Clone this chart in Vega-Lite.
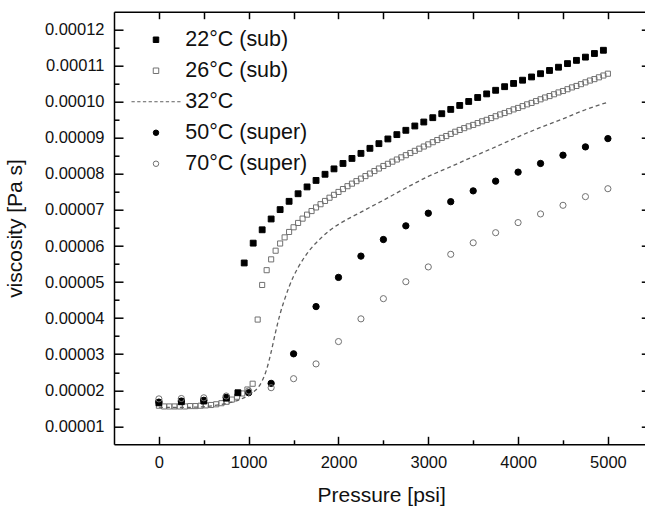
{
  "$schema": "https://vega.github.io/schema/vega-lite/v6.json",
  "width": 534.3,
  "height": 432.6,
  "autosize": {"type": "none"},
  "padding": {"left": 114, "top": 11.7, "right": 0, "bottom": 64},
  "background": "white",
  "config": {
    "view": {"stroke": null},
    "font": "Liberation Sans",
    "axis": {
      "domainColor": "#000", "domainWidth": 1.5, "tickColor": "#000", "tickWidth": 1.5,
      "labelFont": "Liberation Sans", "labelFontSize": 16.5, "labelColor": "#111",
      "titleFont": "Liberation Sans", "titleFontSize": 21, "titleFontWeight": "normal", "titleColor": "#111",
      "grid": false, "labelFlush": false, "labelOverlap": false
    },
    "legend": {
      "labelFont": "Liberation Sans", "labelFontSize": 21.5, "labelColor": "#111",
      "symbolSize": 30, "symbolStrokeWidth": 1, "labelOffset": 18.5, "rowPadding": 8, "padding": 0
    }
  },
  "data": {"values": [
    {"s":"26°C (sub)","p":0,"v":1.57e-5},{"s":"26°C (sub)","p":58,"v":1.55e-5},{"s":"26°C (sub)","p":116,"v":1.55e-5},{"s":"26°C (sub)","p":174,"v":1.55e-5},{"s":"26°C (sub)","p":232,"v":1.55e-5},{"s":"26°C (sub)","p":290,"v":1.55e-5},{"s":"26°C (sub)","p":348,"v":1.56e-5},{"s":"26°C (sub)","p":406,"v":1.56e-5},{"s":"26°C (sub)","p":464,"v":1.57e-5},{"s":"26°C (sub)","p":522,"v":1.58e-5},{"s":"26°C (sub)","p":580,"v":1.59e-5},{"s":"26°C (sub)","p":638,"v":1.61e-5},{"s":"26°C (sub)","p":696,"v":1.64e-5},{"s":"26°C (sub)","p":754,"v":1.68e-5},{"s":"26°C (sub)","p":812,"v":1.74e-5},{"s":"26°C (sub)","p":870,"v":1.82e-5},{"s":"26°C (sub)","p":928,"v":1.91e-5},{"s":"26°C (sub)","p":986,"v":2.02e-5},{"s":"26°C (sub)","p":1044,"v":2.18e-5},
    {"s":"26°C (sub)","p":1100,"v":3.96e-5},{"s":"26°C (sub)","p":1150,"v":4.92e-5},{"s":"26°C (sub)","p":1200,"v":5.33e-5},{"s":"26°C (sub)","p":1250,"v":5.63e-5},{"s":"26°C (sub)","p":1300,"v":5.87e-5},{"s":"26°C (sub)","p":1350,"v":6.07e-5},{"s":"26°C (sub)","p":1400,"v":6.24e-5},{"s":"26°C (sub)","p":1450,"v":6.39e-5},{"s":"26°C (sub)","p":1500,"v":6.52e-5},{"s":"26°C (sub)","p":1550,"v":6.64e-5},{"s":"26°C (sub)","p":1600,"v":6.76e-5},{"s":"26°C (sub)","p":1650,"v":6.87e-5},{"s":"26°C (sub)","p":1700,"v":6.97e-5},{"s":"26°C (sub)","p":1750,"v":7.07e-5},{"s":"26°C (sub)","p":1800,"v":7.16e-5},{"s":"26°C (sub)","p":1850,"v":7.25e-5},{"s":"26°C (sub)","p":1900,"v":7.34e-5},{"s":"26°C (sub)","p":1950,"v":7.42e-5},{"s":"26°C (sub)","p":2000,"v":7.50e-5},{"s":"26°C (sub)","p":2050,"v":7.58e-5},{"s":"26°C (sub)","p":2100,"v":7.66e-5},{"s":"26°C (sub)","p":2150,"v":7.73e-5},{"s":"26°C (sub)","p":2200,"v":7.80e-5},{"s":"26°C (sub)","p":2250,"v":7.87e-5},{"s":"26°C (sub)","p":2300,"v":7.94e-5},{"s":"26°C (sub)","p":2350,"v":8.01e-5},{"s":"26°C (sub)","p":2400,"v":8.08e-5},{"s":"26°C (sub)","p":2450,"v":8.15e-5},{"s":"26°C (sub)","p":2500,"v":8.22e-5},{"s":"26°C (sub)","p":2550,"v":8.28e-5},{"s":"26°C (sub)","p":2600,"v":8.34e-5},{"s":"26°C (sub)","p":2650,"v":8.40e-5},{"s":"26°C (sub)","p":2700,"v":8.46e-5},{"s":"26°C (sub)","p":2750,"v":8.52e-5},{"s":"26°C (sub)","p":2800,"v":8.58e-5},{"s":"26°C (sub)","p":2850,"v":8.64e-5},{"s":"26°C (sub)","p":2900,"v":8.70e-5},{"s":"26°C (sub)","p":2950,"v":8.76e-5},{"s":"26°C (sub)","p":3000,"v":8.82e-5},{"s":"26°C (sub)","p":3050,"v":8.88e-5},{"s":"26°C (sub)","p":3100,"v":8.94e-5},{"s":"26°C (sub)","p":3150,"v":9.00e-5},{"s":"26°C (sub)","p":3200,"v":9.05e-5},{"s":"26°C (sub)","p":3250,"v":9.11e-5},{"s":"26°C (sub)","p":3300,"v":9.17e-5},{"s":"26°C (sub)","p":3350,"v":9.22e-5},{"s":"26°C (sub)","p":3400,"v":9.27e-5},{"s":"26°C (sub)","p":3450,"v":9.32e-5},{"s":"26°C (sub)","p":3500,"v":9.36e-5},{"s":"26°C (sub)","p":3550,"v":9.41e-5},{"s":"26°C (sub)","p":3600,"v":9.46e-5},{"s":"26°C (sub)","p":3650,"v":9.50e-5},{"s":"26°C (sub)","p":3700,"v":9.55e-5},{"s":"26°C (sub)","p":3750,"v":9.60e-5},{"s":"26°C (sub)","p":3800,"v":9.65e-5},{"s":"26°C (sub)","p":3850,"v":9.69e-5},{"s":"26°C (sub)","p":3900,"v":9.74e-5},{"s":"26°C (sub)","p":3950,"v":9.79e-5},{"s":"26°C (sub)","p":4000,"v":9.83e-5},{"s":"26°C (sub)","p":4050,"v":9.88e-5},{"s":"26°C (sub)","p":4100,"v":9.93e-5},{"s":"26°C (sub)","p":4150,"v":9.97e-5},{"s":"26°C (sub)","p":4200,"v":10.02e-5},{"s":"26°C (sub)","p":4250,"v":10.07e-5},{"s":"26°C (sub)","p":4300,"v":10.12e-5},{"s":"26°C (sub)","p":4350,"v":10.16e-5},{"s":"26°C (sub)","p":4400,"v":10.21e-5},{"s":"26°C (sub)","p":4450,"v":10.26e-5},{"s":"26°C (sub)","p":4500,"v":10.30e-5},{"s":"26°C (sub)","p":4550,"v":10.35e-5},{"s":"26°C (sub)","p":4600,"v":10.40e-5},{"s":"26°C (sub)","p":4650,"v":10.44e-5},{"s":"26°C (sub)","p":4700,"v":10.49e-5},{"s":"26°C (sub)","p":4750,"v":10.54e-5},{"s":"26°C (sub)","p":4800,"v":10.59e-5},{"s":"26°C (sub)","p":4850,"v":10.63e-5},{"s":"26°C (sub)","p":4900,"v":10.68e-5},{"s":"26°C (sub)","p":4950,"v":10.73e-5},{"s":"26°C (sub)","p":5000,"v":10.78e-5},
    {"s":"22°C (sub)","p":0,"v":1.65e-5},{"s":"22°C (sub)","p":250,"v":1.68e-5},{"s":"22°C (sub)","p":500,"v":1.70e-5},{"s":"22°C (sub)","p":750,"v":1.78e-5},{"s":"22°C (sub)","p":880,"v":1.93e-5},
    {"s":"22°C (sub)","p":950,"v":5.53e-5},{"s":"22°C (sub)","p":1050,"v":6.08e-5},{"s":"22°C (sub)","p":1150,"v":6.45e-5},{"s":"22°C (sub)","p":1250,"v":6.75e-5},{"s":"22°C (sub)","p":1350,"v":7.01e-5},{"s":"22°C (sub)","p":1450,"v":7.24e-5},{"s":"22°C (sub)","p":1550,"v":7.45e-5},{"s":"22°C (sub)","p":1650,"v":7.64e-5},{"s":"22°C (sub)","p":1750,"v":7.82e-5},{"s":"22°C (sub)","p":1850,"v":7.99e-5},{"s":"22°C (sub)","p":1950,"v":8.14e-5},{"s":"22°C (sub)","p":2050,"v":8.29e-5},{"s":"22°C (sub)","p":2150,"v":8.43e-5},{"s":"22°C (sub)","p":2250,"v":8.57e-5},{"s":"22°C (sub)","p":2350,"v":8.71e-5},{"s":"22°C (sub)","p":2450,"v":8.84e-5},{"s":"22°C (sub)","p":2550,"v":8.97e-5},{"s":"22°C (sub)","p":2650,"v":9.09e-5},{"s":"22°C (sub)","p":2750,"v":9.21e-5},{"s":"22°C (sub)","p":2850,"v":9.33e-5},{"s":"22°C (sub)","p":2950,"v":9.44e-5},{"s":"22°C (sub)","p":3050,"v":9.56e-5},{"s":"22°C (sub)","p":3150,"v":9.67e-5},{"s":"22°C (sub)","p":3250,"v":9.79e-5},{"s":"22°C (sub)","p":3350,"v":9.90e-5},{"s":"22°C (sub)","p":3450,"v":10.01e-5},{"s":"22°C (sub)","p":3550,"v":10.12e-5},{"s":"22°C (sub)","p":3650,"v":10.22e-5},{"s":"22°C (sub)","p":3750,"v":10.32e-5},{"s":"22°C (sub)","p":3850,"v":10.42e-5},{"s":"22°C (sub)","p":3950,"v":10.51e-5},{"s":"22°C (sub)","p":4050,"v":10.60e-5},{"s":"22°C (sub)","p":4150,"v":10.69e-5},{"s":"22°C (sub)","p":4250,"v":10.78e-5},{"s":"22°C (sub)","p":4350,"v":10.87e-5},{"s":"22°C (sub)","p":4450,"v":10.96e-5},{"s":"22°C (sub)","p":4550,"v":11.06e-5},{"s":"22°C (sub)","p":4650,"v":11.15e-5},{"s":"22°C (sub)","p":4750,"v":11.24e-5},{"s":"22°C (sub)","p":4850,"v":11.34e-5},{"s":"22°C (sub)","p":4950,"v":11.43e-5},
    {"s":"50°C (super)","p":0,"v":1.67e-5},{"s":"50°C (super)","p":250,"v":1.70e-5},{"s":"50°C (super)","p":500,"v":1.72e-5},{"s":"50°C (super)","p":750,"v":1.80e-5},{"s":"50°C (super)","p":1000,"v":1.93e-5},{"s":"50°C (super)","p":1250,"v":2.19e-5},{"s":"50°C (super)","p":1500,"v":3.01e-5},{"s":"50°C (super)","p":1750,"v":4.32e-5},{"s":"50°C (super)","p":2000,"v":5.13e-5},{"s":"50°C (super)","p":2250,"v":5.72e-5},{"s":"50°C (super)","p":2500,"v":6.18e-5},{"s":"50°C (super)","p":2750,"v":6.56e-5},{"s":"50°C (super)","p":3000,"v":6.91e-5},{"s":"50°C (super)","p":3250,"v":7.23e-5},{"s":"50°C (super)","p":3500,"v":7.53e-5},{"s":"50°C (super)","p":3750,"v":7.80e-5},{"s":"50°C (super)","p":4000,"v":8.05e-5},{"s":"50°C (super)","p":4250,"v":8.29e-5},{"s":"50°C (super)","p":4500,"v":8.52e-5},{"s":"50°C (super)","p":4750,"v":8.75e-5},{"s":"50°C (super)","p":5000,"v":8.98e-5},
    {"s":"70°C (super)","p":0,"v":1.76e-5},{"s":"70°C (super)","p":250,"v":1.77e-5},{"s":"70°C (super)","p":500,"v":1.79e-5},{"s":"70°C (super)","p":750,"v":1.84e-5},{"s":"70°C (super)","p":1000,"v":1.98e-5},{"s":"70°C (super)","p":1250,"v":2.07e-5},{"s":"70°C (super)","p":1500,"v":2.32e-5},{"s":"70°C (super)","p":1750,"v":2.73e-5},{"s":"70°C (super)","p":2000,"v":3.35e-5},{"s":"70°C (super)","p":2250,"v":3.98e-5},{"s":"70°C (super)","p":2500,"v":4.54e-5},{"s":"70°C (super)","p":2750,"v":5.01e-5},{"s":"70°C (super)","p":3000,"v":5.42e-5},{"s":"70°C (super)","p":3250,"v":5.77e-5},{"s":"70°C (super)","p":3500,"v":6.09e-5},{"s":"70°C (super)","p":3750,"v":6.37e-5},{"s":"70°C (super)","p":4000,"v":6.65e-5},{"s":"70°C (super)","p":4250,"v":6.89e-5},{"s":"70°C (super)","p":4500,"v":7.13e-5},{"s":"70°C (super)","p":4750,"v":7.37e-5},{"s":"70°C (super)","p":5000,"v":7.59e-5},
    {"s":"32°C","p":0,"v":1.53e-5},{"s":"32°C","p":200,"v":1.52e-5},{"s":"32°C","p":400,"v":1.53e-5},{"s":"32°C","p":600,"v":1.57e-5},{"s":"32°C","p":800,"v":1.66e-5},{"s":"32°C","p":900,"v":1.74e-5},{"s":"32°C","p":1000,"v":1.86e-5},{"s":"32°C","p":1050,"v":1.95e-5},{"s":"32°C","p":1100,"v":2.06e-5},{"s":"32°C","p":1150,"v":2.26e-5},{"s":"32°C","p":1200,"v":2.58e-5},{"s":"32°C","p":1250,"v":3.06e-5},{"s":"32°C","p":1300,"v":3.62e-5},{"s":"32°C","p":1350,"v":4.12e-5},{"s":"32°C","p":1400,"v":4.52e-5},{"s":"32°C","p":1450,"v":4.87e-5},{"s":"32°C","p":1500,"v":5.16e-5},{"s":"32°C","p":1600,"v":5.61e-5},{"s":"32°C","p":1700,"v":5.95e-5},{"s":"32°C","p":1800,"v":6.21e-5},{"s":"32°C","p":1900,"v":6.43e-5},{"s":"32°C","p":2000,"v":6.60e-5},{"s":"32°C","p":2250,"v":6.94e-5},{"s":"32°C","p":2500,"v":7.27e-5},{"s":"32°C","p":2750,"v":7.61e-5},{"s":"32°C","p":3000,"v":7.93e-5},{"s":"32°C","p":3250,"v":8.20e-5},{"s":"32°C","p":3500,"v":8.48e-5},{"s":"32°C","p":3750,"v":8.75e-5},{"s":"32°C","p":4000,"v":9.03e-5},{"s":"32°C","p":4250,"v":9.29e-5},{"s":"32°C","p":4500,"v":9.53e-5},{"s":"32°C","p":4750,"v":9.78e-5},{"s":"32°C","p":5000,"v":9.99e-5}
  ]},
  "resolve": {"axis": {"x": "independent", "y": "independent"}},
  "layer": [
    {
      "transform": [{"filter": "datum.s !== '32°C'"}],
      "mark": {"type": "point", "filled": false, "strokeWidth": 1, "opacity": 1},
      "encoding": {
        "x": {"field": "p", "type": "quantitative",
          "scale": {"domain": [-500, 5450], "nice": false, "zero": false},
          "axis": {"orient": "bottom", "values": [0,500,1000,1500,2000,2500,3000,3500,4000,4500,5000],
            "format": "d", "labelExpr": "datum.value % 1000 === 0 ? datum.label : ''",
            "tickSize": {"condition": {"test": "datum.value % 1000 === 0", "value": -8}, "value": -4.5},
            "labelPadding": 18, "title": "Pressure [psi]", "titlePadding": 10}},
        "y": {"field": "v", "type": "quantitative",
          "scale": {"domain": [0.000005, 0.000125], "nice": false, "zero": false},
          "axis": {"orient": "left", "values": [0.00001,0.000015,0.00002,0.000025,0.00003,0.000035,0.00004,0.000045,0.00005,0.000055,0.00006,0.000065,0.00007,0.000075,0.00008,0.000085,0.00009,0.000095,0.0001,0.000105,0.00011,0.000115,0.00012],
            "labelExpr": "round(datum.value*1e6) % 10 === 0 ? format(datum.value, '.5f') : ''",
            "tickSize": {"condition": {"test": "round(datum.value*1e6) % 10 === 0", "value": -9}, "value": -5},
            "labelPadding": 19, "title": "viscosity [Pa s]", "titlePadding": 19}},
        "shape": {"field": "s", "type": "nominal",
          "scale": {"domain": ["22°C (sub)", "26°C (sub)", "32°C", "50°C (super)", "70°C (super)"],
            "range": ["square", "square", "M-8.95,0H-7.75M-6.86,0H-5.66M-4.78,0H-3.58M-2.69,0H-1.49M-0.6,0H0.6M1.49,0H2.69M3.58,0H4.78M5.66,0H6.86M7.75,0H8.95", "circle", "circle"]},
          "legend": {"title": null, "orient": "none", "legendX": 31.25, "legendY": 17.3}},
        "fill": {"field": "s", "type": "nominal",
          "scale": {"domain": ["22°C (sub)", "26°C (sub)", "32°C", "50°C (super)", "70°C (super)"],
            "range": ["#000000", "transparent", "transparent", "#000000", "transparent"]},
          "legend": {"title": null, "orient": "none", "legendX": 31.25, "legendY": 17.3}},
        "stroke": {"field": "s", "type": "nominal",
          "scale": {"domain": ["22°C (sub)", "26°C (sub)", "32°C", "50°C (super)", "70°C (super)"],
            "range": ["#000000", "#707070", "#606060", "#000000", "#707070"]},
          "legend": {"title": null, "orient": "none", "legendX": 31.25, "legendY": 17.3}},
        "size": {"field": "s", "type": "nominal",
          "scale": {"type": "ordinal", "domain": ["70°C (super)", "50°C (super)", "26°C (sub)", "22°C (sub)"],
            "range": [38, 40, 26, 34]},
          "legend": null}
      }
    },
    {
      "transform": [{"filter": "datum.s === '32°C'"}],
      "mark": {"type": "line", "stroke": "#606060", "strokeWidth": 1.3, "strokeDash": [4, 3], "interpolate": "monotone"},
      "encoding": {
        "x": {"field": "p", "type": "quantitative",
          "scale": {"domain": [-500, 5450], "nice": false, "zero": false},
          "axis": {"orient": "top", "values": [0,500,1000,1500,2000,2500,3000,3500,4000,4500,5000], "labels": false, "title": null, "tickSize": -7}},
        "y": {"field": "v", "type": "quantitative",
          "scale": {"domain": [0.000005, 0.000125], "nice": false, "zero": false},
          "axis": {"orient": "right", "values": [0.00001,0.00002,0.00003,0.00004,0.00005,0.00006,0.00007,0.00008,0.00009,0.0001,0.00011,0.00012], "labels": false, "title": null, "tickSize": -7}}
      }
    }
  ]
}
